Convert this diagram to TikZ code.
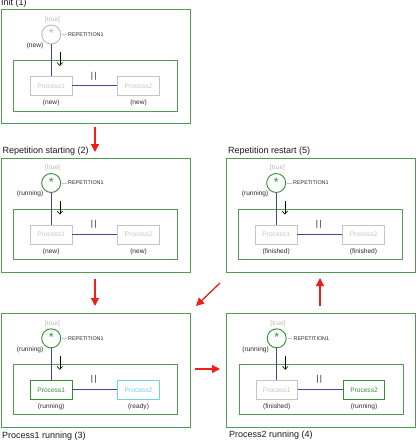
\documentclass[tikz,border=0pt]{standalone}
\usepackage{fontspec}
\setmainfont{Liberation Sans}
\usetikzlibrary{arrows.meta}
\definecolor{boxgreen}{RGB}{78,158,78}
\definecolor{actgreen}{RGB}{50,145,50}
\definecolor{inact}{RGB}{196,196,196}
\definecolor{inacttext}{RGB}{185,185,185}
\definecolor{readycyan}{RGB}{110,212,222}
\definecolor{linkblue}{RGB}{70,66,160}
\definecolor{arrred}{RGB}{236,30,30}
\definecolor{titlegray}{RGB}{25,25,25}
\definecolor{labgray}{RGB}{40,40,40}
\tikzset{
  panelbox/.style={draw=boxgreen, line width=0.9pt, anchor=north west, inner sep=0pt},
  procbox/.style={draw=#1, text=#1, line width=0.8pt, minimum width=41.5pt, minimum height=19pt, inner sep=0pt, font=\fontsize{6.6}{7}\selectfont},
  statelabel/.style={text=labgray, font=\fontsize{6.6}{7}\selectfont, inner sep=0pt},
  smalllabel/.style={font=\fontsize{5.4}{6}\selectfont, text=labgray, inner sep=0pt},
  titlelabel/.style={font=\fontsize{9}{10}\selectfont, text=titlegray, inner sep=0pt, anchor=west},
  link/.style={draw=linkblue, line width=1pt},
  redarrow/.style={draw=arrred, line width=1.3pt, -{Triangle[width=8pt,length=8pt]}},
}
\newcommand{\statepanel}[8]{%
\begin{scope}[shift={(#2)}, name prefix=#1-]
  \node[panelbox, minimum width=189pt, minimum height=113.5pt] (outer) at (0,0) {};
  \node[panelbox, minimum width=164pt, minimum height=50pt] (inner) at (12.7,51) {};
  \node[circle, draw=#3, line width=0.9pt, minimum size=19pt, inner sep=0pt] (rep) at (50.7,25) {};
  \node[text=#3, font=\fontsize{12.5}{12}\selectfont, inner sep=0pt, yshift=1.2pt] (star) at (50.7,25) {*};
  \node[text=inacttext, font=\fontsize{6.6}{7}\selectfont, inner sep=0pt] (cond) at (52,10) {[true]};
  \coordinate (leadA) at (61.5,25);
  \coordinate (leadB) at (66,25);
  \draw[draw=inact, line width=0.5pt] (leadA) -- (leadB);
  \node[smalllabel, anchor=west] (repname) at (67.5,25) {REPETITION1};
  \node[statelabel, anchor=east] (state) at (43,36) {#4};
  \node[procbox=#5] (p1) at (50.7,76.5) {Process1};
  \node[procbox=#7] (p2) at (138,76.5) {Process2};
  \draw[link] (rep) -- (p1);
  \draw[link] (p1) -- (p2);
  \node[text=labgray, font=\fontsize{8.5}{9}\selectfont, inner sep=0pt] (par) at (93.3,66.5) {|\hspace{1.2pt}|};
  \coordinate (dnA) at (59.3,43);
  \coordinate (dnB) at (59.3,56.5);
  \draw[black, line width=0.6pt, -{Straight Barb[length=3pt,width=5.5pt]}] (dnA) -- (dnB);
  \node[statelabel, anchor=north] (p1state) at ([yshift=-4pt]p1.south) {#6};
  \node[statelabel, anchor=north] (p2state) at ([yshift=-4pt]p2.south) {#8};
\end{scope}}
\begin{document}
\begin{tikzpicture}[x=1pt, y=-1pt]
  \useasboundingbox (0,0) rectangle (418,441);
  \statepanel{pa}{0.5,9.5}{inacttext}{(new)}{inact}{(new)}{inact}{(new)}
  \statepanel{pb}{0.5,158}{actgreen}{(running)}{inact}{(new)}{inact}{(new)}
  \statepanel{pe}{225.5,158}{actgreen}{(running)}{inact}{(finished)}{inact}{(finished)}
  \statepanel{pc}{0.5,313.3}{actgreen}{(running)}{actgreen}{(running)}{readycyan}{(ready)}
  \statepanel{pd}{226,313.3}{actgreen}{(running)}{inact}{(finished)}{actgreen}{(running)}
  \node[titlelabel] (t1) at (1,3.5) {Init (1)};
  \node[titlelabel] (t2) at (2.5,151.5) {Repetition starting (2)};
  \node[titlelabel] (t5) at (228,151.5) {Repetition restart (5)};
  \node[titlelabel] (t3) at (2,436) {Process1 running (3)};
  \node[titlelabel] (t4) at (229,435) {Process2 running (4)};
  \coordinate (a1s) at (95,127);
  \coordinate (a1e) at (95,152);
  \coordinate (a2s) at (95,279);
  \coordinate (a2e) at (95,306);
  \coordinate (a3s) at (220,283);
  \coordinate (a3e) at (196,306);
  \coordinate (a4s) at (195,369);
  \coordinate (a4e) at (220,369);
  \coordinate (a5s) at (320,306);
  \coordinate (a5e) at (320,278);
  \draw[redarrow] (a1s) -- (a1e);
  \draw[redarrow] (a2s) -- (a2e);
  \draw[redarrow] (a3s) -- (a3e);
  \draw[redarrow] (a4s) -- (a4e);
  \draw[redarrow] (a5s) -- (a5e);
\end{tikzpicture}
\end{document}
